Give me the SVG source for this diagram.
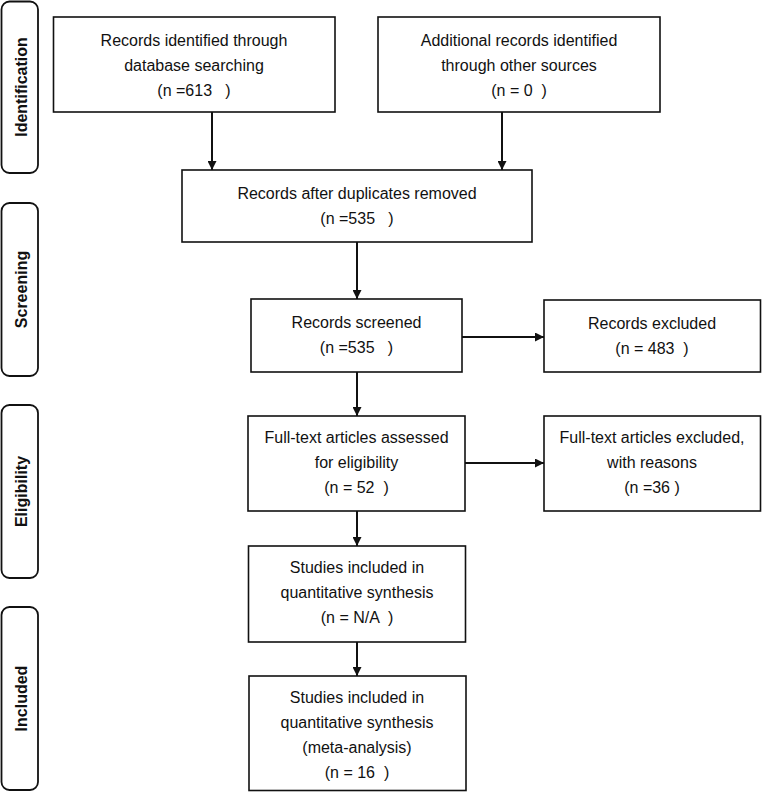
<svg xmlns="http://www.w3.org/2000/svg" width="762" height="792" viewBox="0 0 762 792">
<style>
.box{fill:#fff;stroke:#111;stroke-width:1.6}
.side{fill:#fff;stroke:#111;stroke-width:1.8}
.t{font-family:"Liberation Sans",Arial,sans-serif;font-size:16px;fill:#111;text-anchor:middle;white-space:pre}
.s{font-family:"Liberation Sans",Arial,sans-serif;font-size:16px;font-weight:bold;fill:#111;text-anchor:middle}
.c{stroke:#111;stroke-width:2;fill:none;marker-end:url(#ah)}
</style>
<defs>
<marker id="ah" viewBox="0 0 10 10" refX="10" refY="5" markerWidth="9" markerHeight="9" markerUnits="userSpaceOnUse" orient="auto">
<path d="M0,0 L10,5 L0,10 z" fill="#111"/>
</marker>
</defs>
<g id="phase-identification">
<rect class="side" x="1.5" y="1.5" width="36.5" height="171.5" rx="8"/>
<text class="s" transform="translate(27,87) rotate(-90)">Identification</text>
</g>
<g id="phase-screening">
<rect class="side" x="1.5" y="203" width="36.5" height="173" rx="8"/>
<text class="s" transform="translate(27,289.5) rotate(-90)">Screening</text>
</g>
<g id="phase-eligibility">
<rect class="side" x="1.5" y="405" width="36.5" height="173" rx="8"/>
<text class="s" transform="translate(27,491.5) rotate(-90)">Eligibility</text>
</g>
<g id="phase-included">
<rect class="side" x="1.5" y="607" width="36.5" height="183" rx="8"/>
<text class="s" transform="translate(27,698.5) rotate(-90)">Included</text>
</g>
<g id="connectors">
<line class="c" x1="212" y1="112" x2="212" y2="170"/>
<line class="c" x1="502" y1="112" x2="502" y2="170"/>
<line class="c" x1="357" y1="242" x2="357" y2="299"/>
<line class="c" x1="462" y1="337" x2="544" y2="337"/>
<line class="c" x1="357" y1="372" x2="357" y2="416"/>
<line class="c" x1="465" y1="463" x2="544" y2="463"/>
<line class="c" x1="357" y1="511" x2="357" y2="546"/>
<line class="c" x1="357" y1="642" x2="357" y2="676"/>
</g>
<g id="records-database">
<rect class="box" x="53.5" y="17" width="281.5" height="95"/>
<text class="t" x="194" y="46">Records identified through</text>
<text class="t" x="194" y="71">database searching</text>
<text class="t" x="194" y="96">(n =613   )</text>
</g>
<g id="records-other">
<rect class="box" x="378" y="17" width="282" height="95"/>
<text class="t" x="519" y="46">Additional records identified</text>
<text class="t" x="519" y="71">through other sources</text>
<text class="t" x="519" y="96">(n = 0  )</text>
</g>
<g id="duplicates-removed">
<rect class="box" x="182" y="170" width="350" height="72"/>
<text class="t" x="357" y="199">Records after duplicates removed</text>
<text class="t" x="357" y="224">(n =535   )</text>
</g>
<g id="records-screened">
<rect class="box" x="251" y="299" width="211" height="73"/>
<text class="t" x="356.5" y="328">Records screened</text>
<text class="t" x="356.5" y="353">(n =535   )</text>
</g>
<g id="records-excluded">
<rect class="box" x="544" y="300" width="216.5" height="72"/>
<text class="t" x="652" y="329">Records excluded</text>
<text class="t" x="652" y="354">(n = 483  )</text>
</g>
<g id="fulltext-assessed">
<rect class="box" x="248" y="416" width="217" height="95"/>
<text class="t" x="356.5" y="443">Full-text articles assessed</text>
<text class="t" x="356.5" y="468">for eligibility</text>
<text class="t" x="356.5" y="493">(n = 52  )</text>
</g>
<g id="fulltext-excluded">
<rect class="box" x="544" y="416" width="216.5" height="95"/>
<text class="t" x="652" y="443">Full-text articles excluded,</text>
<text class="t" x="652" y="468">with reasons</text>
<text class="t" x="652" y="493">(n =36 )</text>
</g>
<g id="studies-quantitative">
<rect class="box" x="248.5" y="546" width="217" height="96"/>
<text class="t" x="357" y="573">Studies included in</text>
<text class="t" x="357" y="598">quantitative synthesis</text>
<text class="t" x="357" y="623">(n = N/A  )</text>
</g>
<g id="studies-meta">
<rect class="box" x="249" y="676" width="217" height="114.5"/>
<text class="t" x="357" y="703">Studies included in</text>
<text class="t" x="357" y="728">quantitative synthesis</text>
<text class="t" x="357" y="753">(meta-analysis)</text>
<text class="t" x="357" y="778">(n = 16  )</text>
</g>
</svg>
